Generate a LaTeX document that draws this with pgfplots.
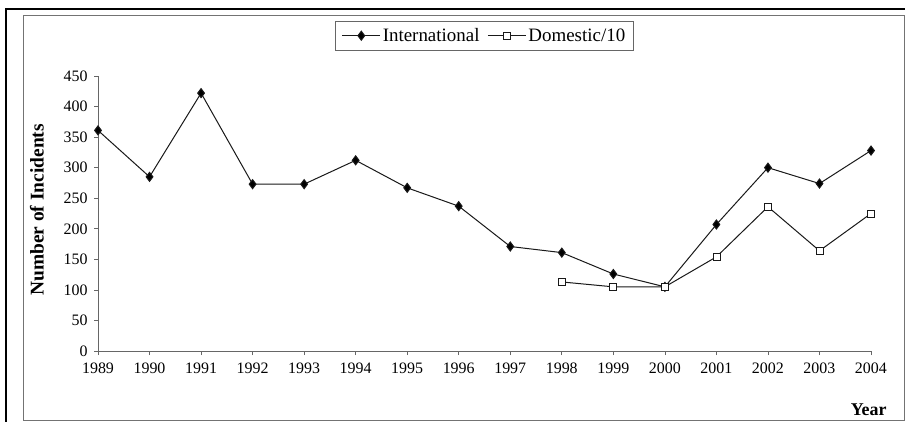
\documentclass[border=0pt]{standalone}
\usepackage{pgfplots}
\pgfplotsset{compat=1.18}
\usepackage{fontspec}
\setmainfont{Liberation Serif}
\begin{document}
\begin{tikzpicture}[x=1bp,y=1bp]
\useasboundingbox (0,0) rectangle (905,421);
\fill[white] (0,0) rectangle (905,421);
% outer thick frame (left and top visible)
\draw[black,line width=2.2bp] (6,-5) -- (6,412) -- (910,412);
% inner thin frame
\draw[black!55,line width=0.9bp] (23,1) rectangle (904,406);
\begin{axis}[
  at={(98bp,70bp)}, anchor=south west,
  scale only axis, width=773bp, height=275bp,
  xmin=1989, xmax=2004, ymin=0, ymax=450,
  axis lines=left, axis line style={black!60,line width=0.8bp,-},
  xtick={1989,...,2004}, ytick={0,50,...,450},
  tick align=outside, major tick length=4bp,
  tick style={black!60,line width=0.6bp},
  /pgf/number format/assume math mode=true,
  /pgf/number format/set thousands separator={},
  tick label style={font=\fontsize{16}{16}\selectfont},
  xticklabel style={yshift=-4bp},
  yticklabel style={xshift=-3bp},
  ylabel={\bfseries Number of Incidents},
  ylabel style={font=\fontsize{19.5}{19.5}\selectfont, at={(axis description cs:-0.079,0.513)}, anchor=center, rotate=0},
  xlabel={\bfseries Year},
  xlabel style={font=\fontsize{18}{18}\selectfont, at={(axis description cs:0.997,-0.213)}, anchor=center},
  legend columns=2,
  legend style={at={(axis description cs:0.5,1.2)}, anchor=north,
    draw=black!60, line width=0.8bp, font=\fontsize{19}{19}\selectfont,
    inner xsep=6bp, inner ysep=5bp,
    /tikz/every even column/.append style={column sep=6bp}},
  legend image code/.code={%
    \draw[#1, mark=none] (0bp,0bp) -- (38bp,0bp);
    \draw[#1, only marks] plot coordinates {(19bp,0bp)};},
]
\addplot[black!90, line width=1bp, mark=diamond*, mark size=4.5bp, mark options={fill=black}]
coordinates {
(1989,361) (1990,285) (1991,422) (1992,273) (1993,273) (1994,312) (1995,267) (1996,237)
(1997,171) (1998,161) (1999,126) (2000,105) (2001,207) (2002,300) (2003,274) (2004,328)
};
\addlegendentry{International}
\addplot[black!90, line width=1bp, mark=square*, mark size=3.5bp, mark options={fill=white, line width=0.8bp}]
coordinates {
(1998,113) (1999,105) (2000,105) (2001,154) (2002,236) (2003,164) (2004,225)
};
\addlegendentry{Domestic/10}
\end{axis}
\end{tikzpicture}
\end{document}
